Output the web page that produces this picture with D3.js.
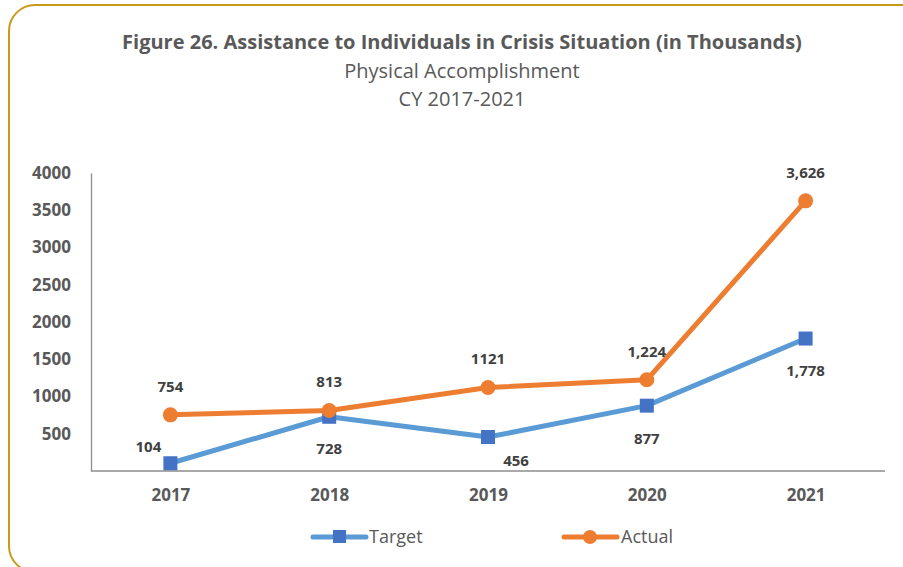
<!DOCTYPE html>
<html>
<head>
<meta charset="utf-8">
<script src="https://cdn.jsdelivr.net/npm/d3@7"></script>
<style>
  body { margin: 0; background: #fff; }
  svg { display: block; font-family: "Open Sans", sans-serif; }
</style>
</head>
<body>
<script>
  // chart data
  var years = ["2017", "2018", "2019", "2020", "2021"];
  var target = [104, 728, 456, 877, 1778];
  var actual = [754, 813, 1121, 1224, 3626];
  var targetLabels = ["104", "728", "456", "877", "1,778"];
  var actualLabels = ["754", "813", "1121", "1,224", "3,626"];
  var yTicks = [500, 1000, 1500, 2000, 2500, 3000, 3500, 4000];

  var w = 903, h = 567;
  var plotLeft = 91, plotRight = 885, plotTop = 173, plotBottom = 471;

  var svg = d3.select("body").append("svg")
    .attr("width", w)
    .attr("height", h);

  // frame
  svg.append("rect")
    .attr("x", 9).attr("y", 5)
    .attr("width", 920).attr("height", 567)
    .attr("rx", 26).attr("ry", 26)
    .attr("fill", "#fff")
    .attr("stroke", "#C99A1A")
    .attr("stroke-width", 2);

  // titles
  svg.append("text")
    .attr("x", 462).attr("y", 49)
    .attr("text-anchor", "middle")
    .attr("font-weight", "bold")
    .attr("font-size", "20px")
    .attr("fill", "#595959")
    .text("Figure 26. Assistance to Individuals in Crisis Situation (in Thousands)");
  svg.append("text")
    .attr("x", 462).attr("y", 78)
    .attr("text-anchor", "middle")
    .attr("font-size", "20px")
    .attr("fill", "#595959")
    .text("Physical Accomplishment");
  svg.append("text")
    .attr("x", 462).attr("y", 106)
    .attr("text-anchor", "middle")
    .attr("font-size", "20px")
    .attr("fill", "#595959")
    .text("CY 2017-2021");

  // scales
  var x = d3.scalePoint()
    .domain(years)
    .range([plotLeft, plotRight])
    .padding(0.5);

  var y = d3.scaleLinear()
    .domain([0, 4000])
    .range([plotBottom, plotTop]);

  // y axis
  var yAxis = d3.axisLeft(y)
    .tickValues(yTicks)
    .tickFormat(d3.format("d"))
    .tickSize(0)
    .tickPadding(20);
  var yG = svg.append("g")
    .attr("transform", "translate(" + plotLeft + ",0)")
    .call(yAxis);
  yG.select(".domain").attr("stroke", "#8c8c8c").attr("stroke-width", 1.3);
  yG.selectAll("text")
    .attr("font-family", "'Open Sans', sans-serif")
    .attr("font-weight", "bold")
    .attr("font-size", "17px")
    .attr("fill", "#595959");

  // x axis
  var xAxis = d3.axisBottom(x)
    .tickSize(0)
    .tickPadding(18);
  var xG = svg.append("g")
    .attr("transform", "translate(0," + plotBottom + ")")
    .call(xAxis);
  xG.select(".domain")
    .attr("d", "M" + plotLeft + ",0H" + plotRight)
    .attr("stroke", "#8c8c8c").attr("stroke-width", 1.3);
  xG.selectAll("text")
    .attr("font-family", "'Open Sans', sans-serif")
    .attr("font-weight", "bold")
    .attr("font-size", "17px")
    .attr("fill", "#595959");

  var line = d3.line()
    .x(function(d, i) { return x(years[i]); })
    .y(function(d) { return y(d); });

  // target line
  svg.append("path")
    .datum(target)
    .attr("d", line)
    .attr("fill", "none")
    .attr("stroke", "#5B9BD5")
    .attr("stroke-width", 5)
    .attr("stroke-linejoin", "round")
    .attr("stroke-linecap", "round");

  // actual line
  svg.append("path")
    .datum(actual)
    .attr("d", line)
    .attr("fill", "none")
    .attr("stroke", "#ED7D31")
    .attr("stroke-width", 5)
    .attr("stroke-linejoin", "round")
    .attr("stroke-linecap", "round");

  // target markers
  svg.selectAll(".tmark")
    .data(target)
    .enter()
    .append("rect")
    .attr("class", "tmark")
    .attr("x", function(d, i) { return x(years[i]) - 7; })
    .attr("y", function(d) { return y(d) - 7; })
    .attr("width", 14).attr("height", 14)
    .attr("fill", "#4472C4");

  // actual markers
  svg.selectAll(".amark")
    .data(actual)
    .enter()
    .append("circle")
    .attr("class", "amark")
    .attr("cx", function(d, i) { return x(years[i]); })
    .attr("cy", function(d) { return y(d); })
    .attr("r", 7.5)
    .attr("fill", "#ED7D31");

  // data labels, target: offsets per point as in the original
  var tOff = [[-22, -11], [0, 37], [28, 29], [0, 38], [0, 37]];
  svg.selectAll(".tlab")
    .data(target)
    .enter()
    .append("text")
    .attr("class", "tlab")
    .attr("x", function(d, i) { return x(years[i]) + tOff[i][0]; })
    .attr("y", function(d, i) { return y(d) + tOff[i][1]; })
    .attr("text-anchor", "middle")
    .attr("font-weight", "bold")
    .attr("font-size", "15px")
    .attr("fill", "#404040")
    .text(function(d, i) { return targetLabels[i]; });

  svg.selectAll(".alab")
    .data(actual)
    .enter()
    .append("text")
    .attr("class", "alab")
    .attr("x", function(d, i) { return x(years[i]); })
    .attr("y", function(d) { return y(d) - 23; })
    .attr("text-anchor", "middle")
    .attr("font-weight", "bold")
    .attr("font-size", "15px")
    .attr("fill", "#404040")
    .text(function(d, i) { return actualLabels[i]; });

  // legend
  var leg = svg.append("g");
  leg.append("line")
    .attr("x1", 313).attr("x2", 366).attr("y1", 537).attr("y2", 537)
    .attr("stroke", "#5B9BD5").attr("stroke-width", 5).attr("stroke-linecap", "round");
  leg.append("rect")
    .attr("x", 333).attr("y", 530).attr("width", 13).attr("height", 13)
    .attr("fill", "#4472C4");
  leg.append("text")
    .attr("x", 369).attr("y", 543)
    .attr("font-size", "18px").attr("fill", "#595959")
    .text("Target");
  leg.append("line")
    .attr("x1", 564).attr("x2", 617).attr("y1", 537).attr("y2", 537)
    .attr("stroke", "#ED7D31").attr("stroke-width", 5).attr("stroke-linecap", "round");
  leg.append("circle")
    .attr("cx", 590).attr("cy", 537).attr("r", 7)
    .attr("fill", "#ED7D31");
  leg.append("text")
    .attr("x", 621).attr("y", 543)
    .attr("font-size", "18px").attr("fill", "#595959")
    .text("Actual");
</script>
</body>
</html>
